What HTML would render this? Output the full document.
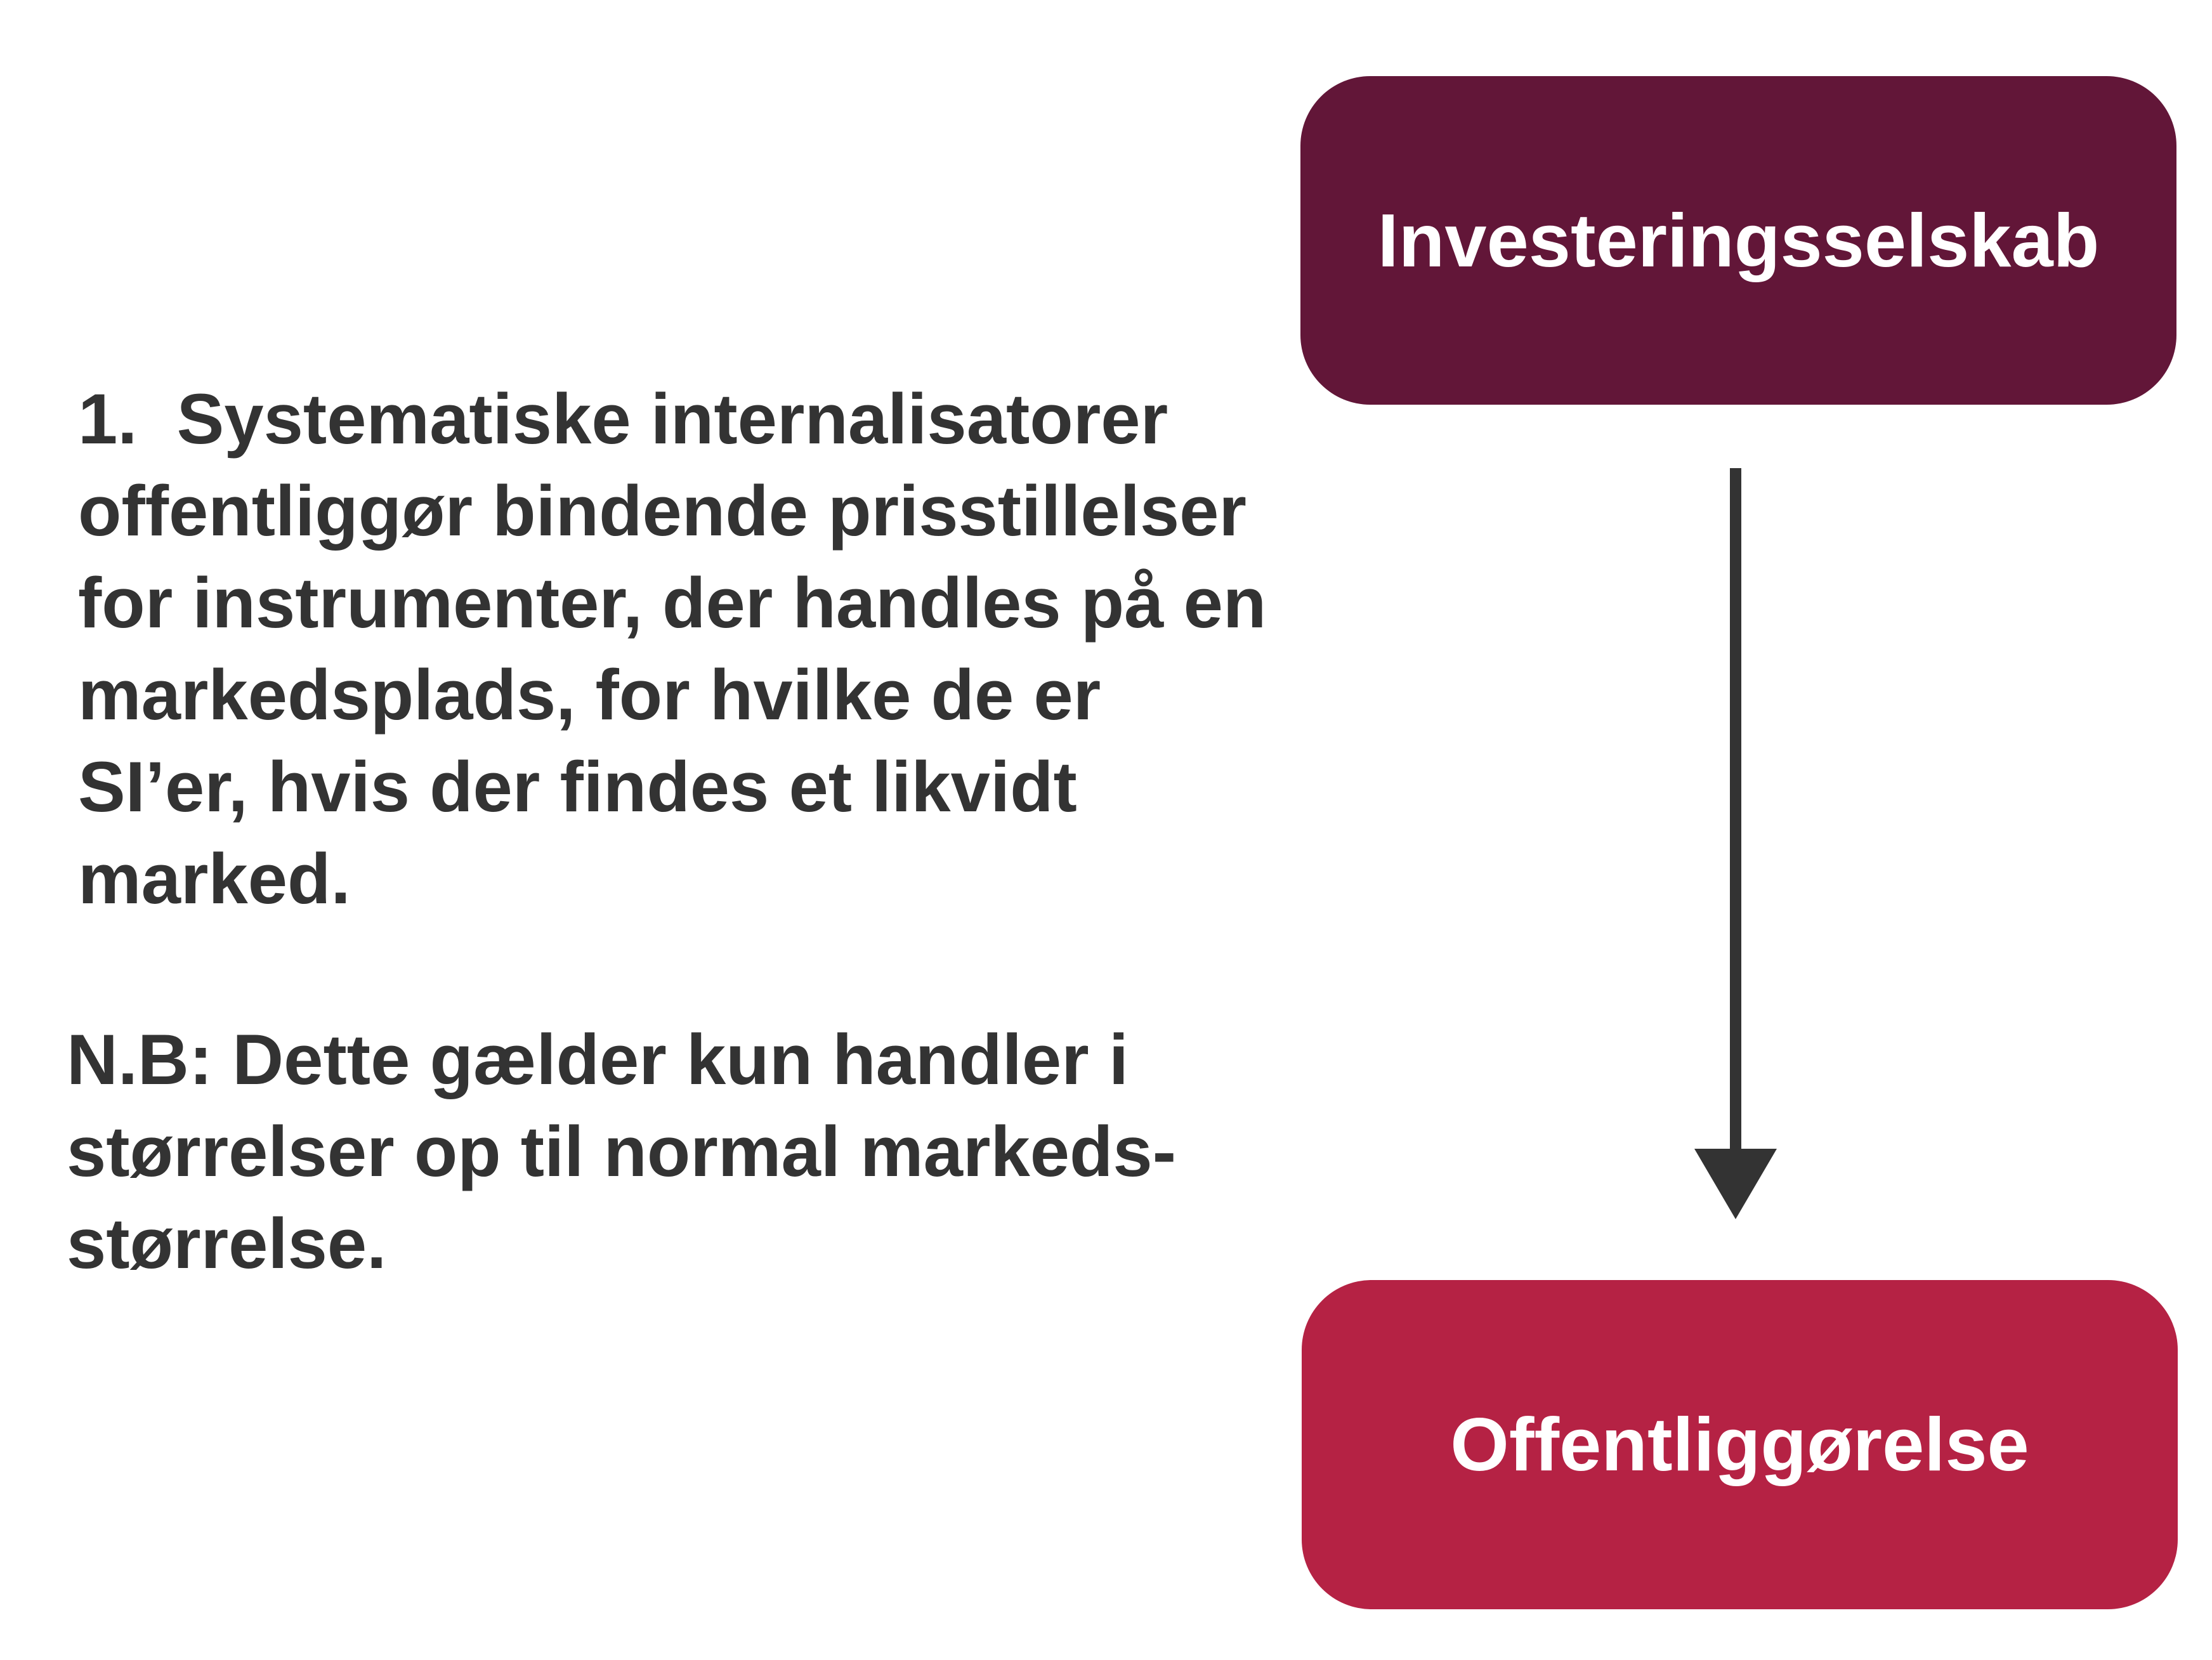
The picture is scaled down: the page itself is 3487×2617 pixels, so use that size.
<!DOCTYPE html>
<html><head><meta charset="utf-8"><style>
html,body{margin:0;padding:0;background:#fff;}
body{width:3487px;height:2617px;position:relative;overflow:hidden;font-family:"Liberation Sans",sans-serif;font-weight:bold;}
.box{position:absolute;border-radius:110px;color:#fff;display:flex;align-items:center;justify-content:center;font-size:119px;}
.t{position:absolute;color:#333;font-size:112px;line-height:145px;white-space:nowrap;}
</style></head><body>
<div class="box" style="left:2050px;top:120px;width:1381px;height:518px;background:#621638;">Investeringsselskab</div>
<div class="box" style="left:2052px;top:2018px;width:1381px;height:519px;background:#b52244;">Offentliggørelse</div>
<div style="position:absolute;left:2727px;top:738px;width:18px;height:1080px;background:#333;"></div>
<svg style="position:absolute;left:0;top:0" width="3487" height="2617"><polygon points="2671,1811 2801,1811 2736,1922" fill="#333"/></svg>
<div class="t" style="left:123px;top:588px;">1.&nbsp; Systematiske internalisatorer<br>offentliggør bindende prisstillelser<br>for instrumenter, der handles på en<br>markedsplads, for hvilke de er<br>SI’er, hvis der findes et likvidt<br>marked.</div>
<div class="t" style="left:105px;top:1598px;">N.B: Dette gælder kun handler i<br>størrelser op til normal markeds-<br>størrelse.</div>
</body></html>
